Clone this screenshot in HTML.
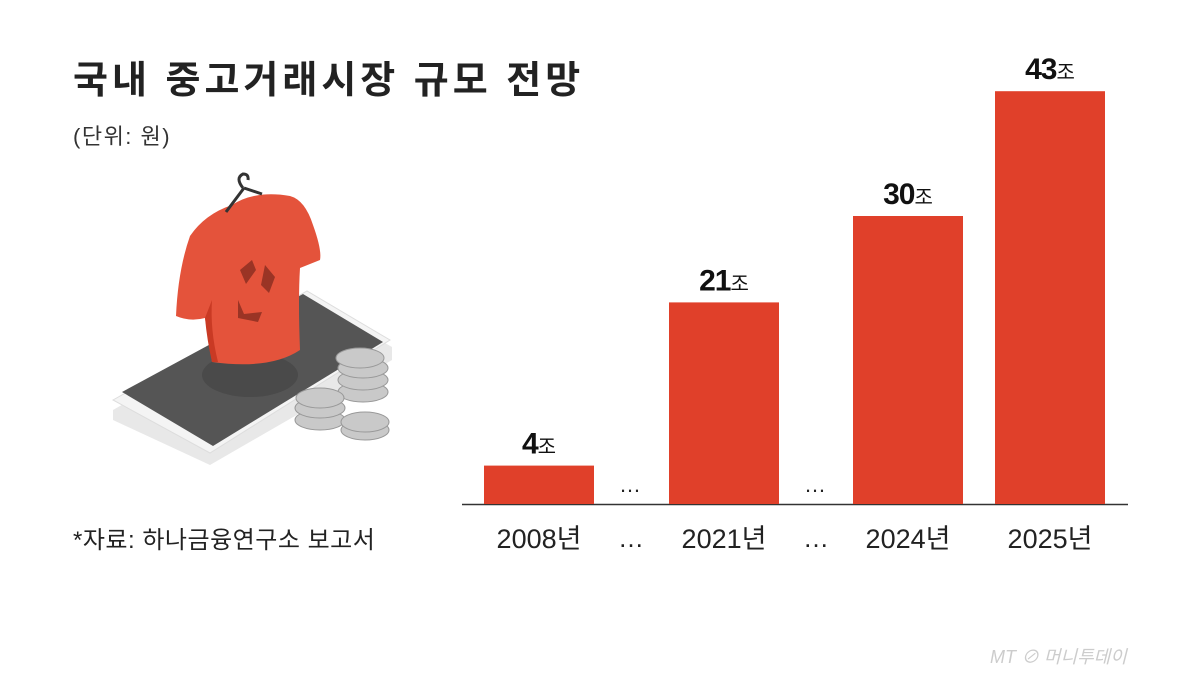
<!DOCTYPE html>
<html><head><meta charset="utf-8"><style>
body{margin:0;width:1200px;height:677px;background:#fff;overflow:hidden;font-family:"Liberation Sans","Noto Sans CJK KR",sans-serif;}
svg{position:absolute;left:0;top:0}
</style></head><body>
<svg width="1200" height="677">
<text x="73" y="93" font-size="38" font-weight="bold" letter-spacing="4" fill="#222" font-family="Liberation Sans, Noto Sans CJK KR, sans-serif">국내 중고거래시장 규모 전망</text>
<text x="73" y="144" font-size="22" letter-spacing="1.5" fill="#333" font-family="Liberation Sans, Noto Sans CJK KR, sans-serif">(단위: 원)</text>
<text x="73" y="548" font-size="24" letter-spacing="0.5" fill="#222" font-family="Liberation Sans, Noto Sans CJK KR, sans-serif">*자료: 하나금융연구소 보고서</text>
<g>
<polygon points="113,410 307,298 392,347 392,360 210,465 113,420" fill="#e8e8e8"/>
<polygon points="113,400 307,291 390,340 210,453" fill="#f4f4f4" stroke="#ddd"/>
<polygon points="122,392 303,294 383,342 213,446" fill="#555"/>
<ellipse cx="250" cy="375" rx="48" ry="22" fill="#4a4a4a"/>
<path d="M232,205 Q255,190 290,196 Q305,200 313,225 Q322,250 320,260 L300,268 Q298,300 300,350 Q270,370 212,362 L205,318 Q190,322 176,316 Q178,270 190,236 Q205,214 232,205 Z" fill="#e4533b"/>
<path d="M205,318 Q207,340 212,362 L218,362 Q210,330 212,300 Z" fill="#c93a24"/>
<path d="M240,270 l12,-10 l4,10 l-10,14 z M265,265 l10,12 l-6,16 l-8,-8 z M238,300 l6,14 l18,-2 l-4,10 l-20,-4 z" fill="#9a3425"/>
<path d="M243,188 q-8,-10 0,-14 q6,0 5,6 M244,188 l-18,24 M244,188 l18,6" stroke="#333" stroke-width="3" fill="none"/>
<g fill="#c9c9c9" stroke="#999" stroke-width="1">
<ellipse cx="363" cy="392" rx="25" ry="10"/><ellipse cx="363" cy="380" rx="25" ry="10"/><ellipse cx="363" cy="368" rx="25" ry="10"/><ellipse cx="360" cy="358" rx="24" ry="10"/>
<ellipse cx="320" cy="420" rx="25" ry="10"/><ellipse cx="320" cy="408" rx="25" ry="10"/><ellipse cx="320" cy="398" rx="24" ry="10"/>
<ellipse cx="365" cy="430" rx="24" ry="10"/><ellipse cx="365" cy="422" rx="24" ry="10"/>
</g>
</g>
<line x1="462" y1="504.5" x2="1128" y2="504.5" stroke="#333" stroke-width="1.5"/>
<g id="bars"></g>
<text x="630" y="492" font-size="22" text-anchor="middle" fill="#222">…</text>
<text x="815" y="492" font-size="22" text-anchor="middle" fill="#222">…</text>
<text x="631" y="547" font-size="26" text-anchor="middle" fill="#222">…</text>
<text x="816" y="547" font-size="26" text-anchor="middle" fill="#222">…</text>
<text x="990" y="663" font-size="18" fill="#ccc" font-style="italic">MT ⊘ 머니투데이</text>
</svg>
<script>
const categories=["2008년","2021년","2024년","2025년"];
const values=[4,21,30,43];
const valueLabels=["4","21","30","43"];
const xs=[539,724,908,1050];
const baseY=504, pxPerUnit=9.6, barW=110;
function y(v){return baseY-v*pxPerUnit;}
const g=document.getElementById('bars');
const NS='http://www.w3.org/2000/svg';
categories.forEach((c,i)=>{
  const r=document.createElementNS(NS,'rect');
  r.setAttribute('x',xs[i]-barW/2);r.setAttribute('y',y(values[i]));
  r.setAttribute('width',barW);r.setAttribute('height',values[i]*pxPerUnit);
  r.setAttribute('fill','#e0402a');
  
  
  g.appendChild(r);
  const t=document.createElementNS(NS,'text');
  t.setAttribute('x',xs[i]);t.setAttribute('y',y(values[i])-12);
  t.setAttribute('text-anchor','middle');t.setAttribute('fill','#111');
  t.innerHTML='<tspan font-size="30" font-weight="bold" letter-spacing="-1">'+valueLabels[i]+'</tspan><tspan font-size="20">조</tspan>';
  
  
  g.appendChild(t);
  const l=document.createElementNS(NS,'text');
  l.setAttribute('x',xs[i]);l.setAttribute('y',548);
  l.setAttribute('text-anchor','middle');l.setAttribute('font-size','27');l.setAttribute('fill','#222');
  l.textContent=c;
  
  
  g.appendChild(l);
});
</script>
</body></html>
